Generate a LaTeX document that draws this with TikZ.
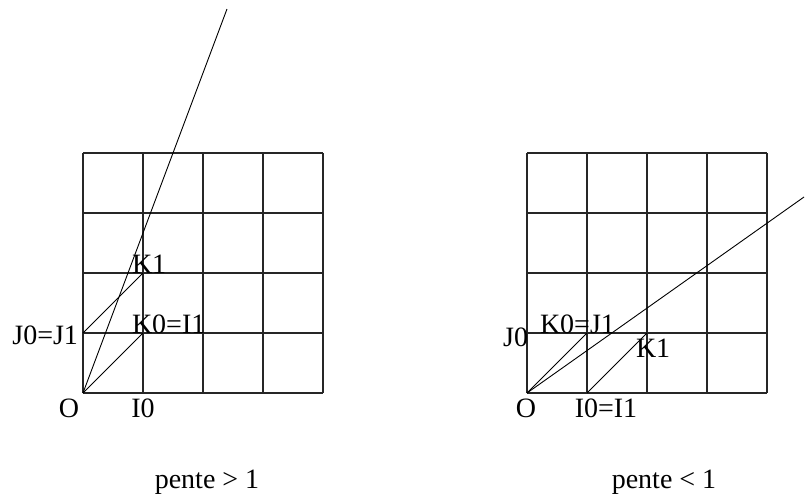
\documentclass[tikz,border=0pt]{standalone}
\usepackage{fontspec}
\setmainfont{Liberation Serif}
\begin{document}
\begin{tikzpicture}[x=1pt,y=-1pt,
  gridline/.style={line width=1.2pt, black!85},
  diag/.style={line width=0.9pt, black},
  lbl/.style={inner sep=0pt, outer sep=0pt, font=\fontsize{28}{28}\selectfont}]
\useasboundingbox (0,0) rectangle (805,496);
% grids
\foreach \gx in {83,527} {
  \foreach \i in {0,...,4} {
    \draw[gridline] (\gx+60*\i,153) -- (\gx+60*\i,393);
    \draw[gridline] (\gx,153+60*\i) -- (\gx+240,153+60*\i);
  }
}
% left
\coordinate (LO) at (83,393);
\coordinate (LK0) at (143,333);
\coordinate (LJ0) at (83,333);
\coordinate (LK1) at (143,273);
\coordinate (Lend) at (227,9);
\draw[diag] (LO) -- (LK0);
\draw[diag] (LJ0) -- (LK1);
\draw[diag] (LO) -- (Lend);
% right
\coordinate (RO) at (527,393);
\coordinate (RK0) at (587,333);
\coordinate (RI0) at (587,393);
\coordinate (RK1) at (647,333);
\coordinate (Rend) at (804,197);
\draw[diag] (RO) -- (RK0);
\draw[diag] (RI0) -- (RK1);
\draw[diag] (RO) -- (Rend);
% left labels
\node[lbl, anchor=base] (lo) at (69,417) {O};
\node[lbl, anchor=base] (li0) at (143,417) {I0};
\node[lbl, anchor=base east] (lj) at (78,344) {J0=J1};
\node[lbl, anchor=base west] (lk1) at (132,273) {K1};
\node[lbl, anchor=base west] (lk0) at (132,333) {K0=I1};
\node[lbl, anchor=base] (lp) at (207,488) {pente > 1};
% right labels
\node[lbl, anchor=base east] (rj) at (528,346) {J0};
\node[lbl, anchor=base west] (rk0) at (540,333) {K0=J1};
\node[lbl, anchor=base west] (rk1) at (636,357) {K1};
\node[lbl, anchor=base] (ro) at (526,417) {O};
\node[lbl, anchor=base] (ri0) at (606,417) {I0=I1};
\node[lbl, anchor=base] (rp) at (664,488) {pente < 1};
\end{tikzpicture}
\end{document}
